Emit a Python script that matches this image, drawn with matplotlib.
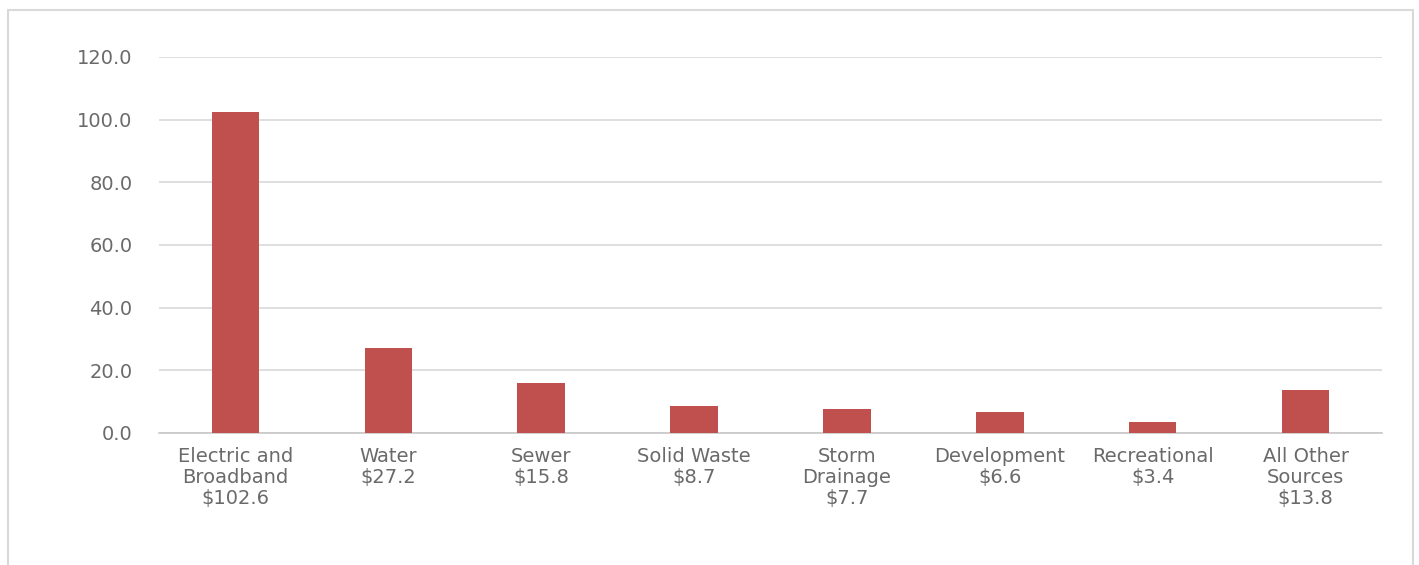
import matplotlib
matplotlib.use('Agg')
import matplotlib.pyplot as plt
from matplotlib.patches import Rectangle

categories = ['Electric and\nBroadband', 'Water', 'Sewer', 'Solid Waste',
              'Storm\nDrainage', 'Development', 'Recreational', 'All Other\nSources']
values = [102.6, 27.2, 15.8, 8.7, 7.7, 6.6, 3.4, 13.8]
y_ticks = [0, 20, 40, 60, 80, 100, 120]

plt.rcParams['font.family'] = ['DejaVu Sans']
text_color = '#6A6A6A'
grid_color = '#D9D9D9'

fig = plt.figure(figsize=(14.19, 5.65), dpi=100)
ax = fig.add_axes([159 / 1419, 1 - 433 / 565, (1382 - 159) / 1419, (433 - 57) / 565])

labels = [f'{c}\n${v:.1f}' for c, v in zip(categories, values)]
x = range(len(values))
ax.bar(x, values, width=0.31, color='#C0504D', zorder=3)

ax.set_xlim(-0.5, len(values) - 0.5)
ax.set_ylim(0, 120)
ax.set_yticks(y_ticks)
ax.set_yticklabels([f'{t:.1f}' for t in y_ticks])
ax.set_xticks(list(x))
ax.set_xticklabels(labels, linespacing=1.15)

ax.grid(axis='y', color=grid_color, linewidth=1.2, zorder=0)
for s in ['top', 'right', 'left']:
    ax.spines[s].set_visible(False)
ax.spines['bottom'].set_color('#C8C8C8')
ax.spines['bottom'].set_linewidth(1.2)
ax.tick_params(axis='both', length=0, labelsize=14, colors=text_color)
ax.tick_params(axis='y', pad=19)
ax.tick_params(axis='x', pad=10)

# chart border
fig.patches.append(Rectangle((8 / 1419, -0.05), (1413 - 8) / 1419, 1.05 - 10 / 565,
                             transform=fig.transFigure, fill=False,
                             edgecolor=grid_color, linewidth=1.5))

plt.savefig('out.png', dpi=100)
